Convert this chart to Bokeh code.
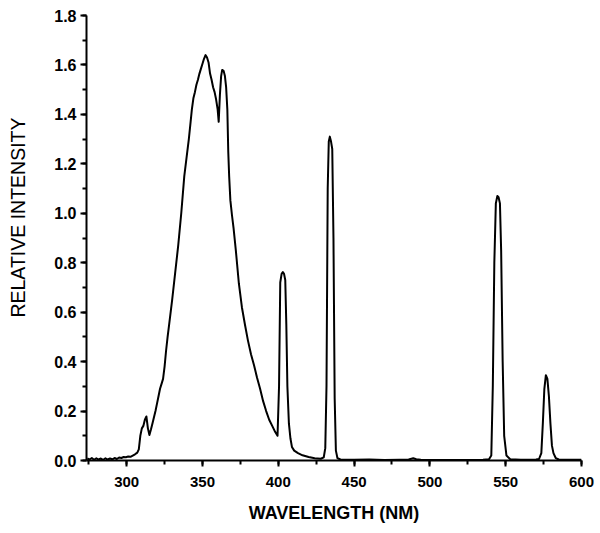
from bokeh.plotting import figure
from bokeh.models import (Range1d, SingleIntervalTicker, PrintfTickFormatter,
                          ColumnDataSource, Title)
from bokeh.embed import file_html
from bokeh.resources import INLINE

wavelength = [274, 275.5, 277, 278.5, 280, 281.5, 283, 284.5, 286, 287.5, 289,
              290.5, 292, 293.5, 295, 296.5, 298, 299.5, 301, 302.5, 304, 305.5,
              307, 308, 309, 310, 311, 312, 313, 314, 315, 316, 317, 318, 319,
              320, 321, 322, 323, 324, 325, 326, 327, 328, 330, 332, 334, 336,
              338, 340, 341, 342, 343, 344, 345, 346, 347, 348, 349, 350, 351,
              352, 353, 354, 355, 356, 357, 358, 359, 360, 360.7, 361.5, 362.3,
              363, 364, 364.8, 365.6, 366.4, 367, 367.6, 368.4, 369.5, 370.5,
              372, 374, 376, 378, 380, 382, 384, 386, 388, 390, 392, 394, 396,
              398, 399.5, 400.5, 401.3, 402.2, 403, 403.8, 404.6, 405.3, 406,
              407, 408, 409, 410.5, 413, 416, 420, 424, 428, 430, 431, 431.8,
              432.6, 433.3, 434, 434.8, 435.6, 436.4, 437.2, 438, 439, 441, 450,
              460, 470, 480, 486, 489, 491, 494, 500, 520, 535, 539, 540.5,
              541.5, 542.5, 543.5, 544.5, 545.3, 546.2, 547, 548, 549, 550.5,
              553, 560, 570, 572, 573.5, 574.5, 575.5, 576.5, 577.5, 578.5,
              579.5, 580.5, 581.5, 583, 585, 590, 600]

intensity = [0.008, 0.004, 0.010, 0.003, 0.009, 0.004, 0.008, 0.003, 0.009,
             0.004, 0.008, 0.005, 0.010, 0.006, 0.012, 0.010, 0.014, 0.013,
             0.016, 0.015, 0.020, 0.025, 0.032, 0.045, 0.100, 0.130, 0.140,
             0.165, 0.178, 0.130, 0.103, 0.125, 0.150, 0.175, 0.200, 0.230,
             0.260, 0.290, 0.310, 0.330, 0.380, 0.445, 0.500, 0.550, 0.650,
             0.760, 0.870, 1.000, 1.150, 1.250, 1.300, 1.360, 1.420, 1.465,
             1.490, 1.520, 1.540, 1.565, 1.585, 1.605, 1.625, 1.640, 1.630,
             1.610, 1.565, 1.540, 1.510, 1.490, 1.460, 1.420, 1.370, 1.480,
             1.555, 1.580, 1.575, 1.555, 1.510, 1.420, 1.250, 1.150, 1.052,
             0.990, 0.940, 0.850, 0.716, 0.620, 0.550, 0.485, 0.430, 0.385,
             0.335, 0.290, 0.240, 0.200, 0.165, 0.140, 0.115, 0.100, 0.300,
             0.720, 0.755, 0.762, 0.755, 0.730, 0.550, 0.300, 0.150, 0.090,
             0.055, 0.040, 0.030, 0.021, 0.014, 0.009, 0.007, 0.013, 0.050,
             0.300, 1.100, 1.290, 1.310, 1.290, 1.260, 0.900, 0.250, 0.040,
             0.010, 0.004, 0.003, 0.004, 0.002, 0.003, 0.004, 0.009, 0.005,
             0.003, 0.002, 0.002, 0.003, 0.005, 0.020, 0.300, 0.800, 1.040,
             1.070, 1.065, 1.040, 0.850, 0.400, 0.100, 0.020, 0.005, 0.003,
             0.004, 0.006, 0.030, 0.150, 0.290, 0.345, 0.330, 0.260, 0.150,
             0.060, 0.030, 0.010, 0.004, 0.003, 0.003]

x_label = "WAVELENGTH (NM)"
y_label = "RELATIVE INTENSITY"

src = ColumnDataSource(dict(x=wavelength, y=intensity))

p = figure(width=600, height=533, output_backend="svg", toolbar_location=None,
           x_range=Range1d(273.5, 600), y_range=Range1d(0, 1.8),
           min_border_left=86, min_border_right=19, min_border_top=15,
           min_border_bottom=73)
p.outline_line_color = None
p.xgrid.visible = False
p.ygrid.visible = False
p.background_fill_color = "white"
p.border_fill_color = "white"

p.line("x", "y", source=src, line_width=2, line_color="black",
       line_join="round")

FONT = "Liberation Sans"

xa = p.xaxis[0]
xa.ticker = SingleIntervalTicker(interval=50, num_minor_ticks=2)
xa.formatter = PrintfTickFormatter(format="%d")
ya = p.yaxis[0]
ya.ticker = SingleIntervalTicker(interval=0.2, num_minor_ticks=2)
ya.formatter = PrintfTickFormatter(format="%.1f")

for ax in (xa, ya):
    ax.axis_line_width = 2
    ax.axis_line_color = "black"
    ax.major_tick_line_width = 2
    ax.minor_tick_line_width = 2
    ax.major_tick_in = 0
    ax.major_tick_out = 6
    ax.minor_tick_in = 0
    ax.minor_tick_out = 4
    ax.major_label_text_font = FONT
    ax.major_label_text_font_style = "bold"
    ax.major_label_text_color = "black"

xa.major_label_text_font_size = "15px"
ya.major_label_text_font_size = "16px"
xa.major_label_standoff = 10
ya.major_label_standoff = 4

xa.axis_label = x_label
xa.axis_label_text_font = FONT
xa.axis_label_text_font_size = "18px"
xa.axis_label_text_font_style = "bold"
xa.axis_label_text_color = "black"
xa.axis_label_standoff = 13

# blank y axis label only reserves room between tick labels and the y title
ya.axis_label = " "
ya.axis_label_text_font_size = "10px"
ya.axis_label_standoff = 7

ytitle = Title(text=y_label, align="right", offset=102,
               vertical_align="middle", standoff=2,
               text_font=FONT, text_font_size="19.5px",
               text_font_style="normal", text_color="black")
p.add_layout(ytitle, "left")

open("out.html", "w").write(file_html(p, INLINE))
